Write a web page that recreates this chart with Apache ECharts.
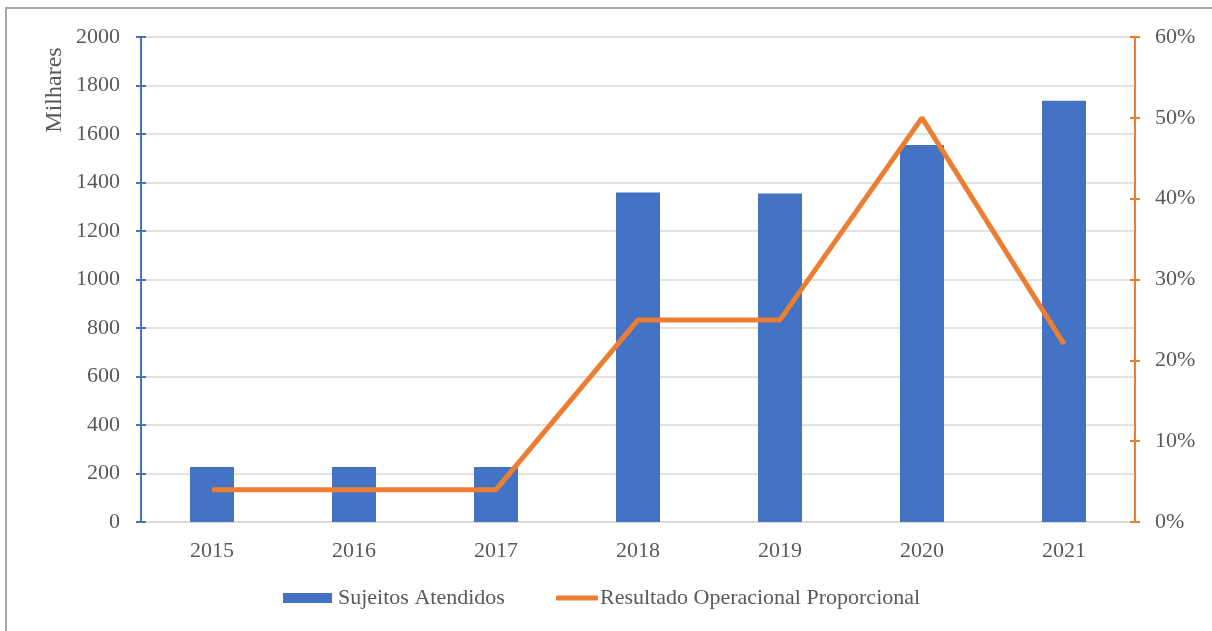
<!DOCTYPE html>
<html>
<head>
<meta charset="utf-8">
<script src="https://cdn.jsdelivr.net/npm/echarts@6/dist/echarts.min.js"></script>
<style>
html,body{margin:0;padding:0;background:#fff;}
#c{width:1212px;height:631px;}
</style>
</head>
<body>
<div id="c"></div>
<script>
const categories = ['2015','2016','2017','2018','2019','2020','2021'];
const sujeitos = [227, 227, 227, 1359, 1355, 1555, 1737];
const resultado = [4, 4, 4, 25, 25, 50, 22];
const barName = 'Sujeitos Atendidos';
const lineName = 'Resultado Operacional Proporcional';

const FONT = '"Liberation Serif", "Times New Roman", serif';
const TXT = '#595959';
const BLUE = '#4472C4';
const ORANGE = '#ED7D31';
const FS = 22;

const chart = echarts.init(document.getElementById('c'), null, {renderer:'canvas'});
const baseY = {min:0, max:2000, interval:200};
const baseR = {min:0, max:60, interval:10};
chart.setOption({
  animation:false,
  backgroundColor:'#fff',
  grid:{left:141, right:77, top:37, bottom:109, containLabel:false},
  graphic:[
    {type:'rect', shape:{x:6, y:8, width:1230, height:650}, style:{fill:'none', stroke:'#a6a6a6', lineWidth:2}, silent:true},
    {type:'text', x:55, y:90, rotation:Math.PI/2, style:{text:'Milhares', font:'24px ' + FONT, fill:TXT, align:'center', verticalAlign:'middle'}}
  ],
  legend:[
    {data:[barName], left:283, top:587, padding:0, icon:'rect', itemWidth:49, itemHeight:10, itemGap:0,
     textStyle:{fontFamily:FONT, fontSize:FS, color:TXT, padding:[0,0,0,1]}},
    {data:[lineName], left:556, top:587, padding:0, icon:'roundRect', itemWidth:42, itemHeight:5, itemGap:0,
     textStyle:{fontFamily:FONT, fontSize:FS, color:TXT, padding:[0,0,0,-3]}}
  ],
  xAxis:{
    type:'category', data:categories, boundaryGap:true,
    axisLine:{show:true, lineStyle:{color:'#d9d9d9', width:1.5}},
    axisTick:{show:false},
    axisLabel:{fontFamily:FONT, fontSize:FS, color:TXT, margin:18}
  },
  yAxis:[
    Object.assign({type:'value', position:'left',
      axisLine:{show:true, lineStyle:{color:BLUE, width:2}},
      axisTick:{show:true, length:5, lineStyle:{color:BLUE, width:2}},
      axisLabel:{fontFamily:FONT, fontSize:FS, color:TXT, margin:21, formatter:function(v){return String(v);}},
      splitLine:{show:true, lineStyle:{color:'#d9d9d9', width:1.5}}}, baseY),
    Object.assign({type:'value', position:'right',
      axisLine:{show:true, lineStyle:{color:ORANGE, width:2}},
      axisTick:{show:true, length:5, lineStyle:{color:ORANGE, width:2}},
      axisLabel:{fontFamily:FONT, fontSize:FS, color:TXT, margin:20, formatter:'{value}%'},
      splitLine:{show:false}}, baseR),
    Object.assign({type:'value', position:'left', offset:0,
      axisLine:{show:false},
      axisTick:{show:true, inside:true, length:5, lineStyle:{color:BLUE, width:2}},
      axisLabel:{show:false}, splitLine:{show:false}}, baseY),
    Object.assign({type:'value', position:'right', offset:0,
      axisLine:{show:false},
      axisTick:{show:true, inside:true, length:5, lineStyle:{color:ORANGE, width:2}},
      axisLabel:{show:false}, splitLine:{show:false}}, baseR)
  ],
  series:[
    {name:barName, type:'bar', data:sujeitos, yAxisIndex:0, barWidth:44,
     itemStyle:{color:BLUE}},
    {name:lineName, type:'line', data:resultado, yAxisIndex:1, symbol:'none',
     lineStyle:{color:ORANGE, width:5}, itemStyle:{color:ORANGE}, z:3}
  ]
});
</script>
</body>
</html>
